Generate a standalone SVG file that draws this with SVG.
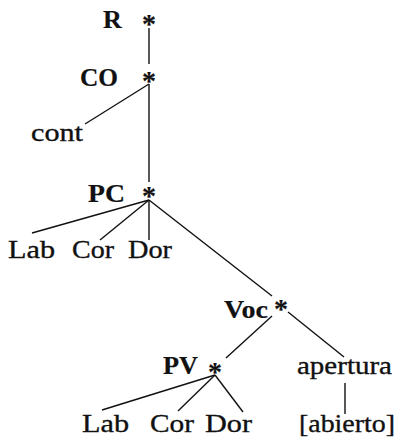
<svg xmlns="http://www.w3.org/2000/svg" width="398" height="440" viewBox="0 0 398 440">
<style>
text{font-family:"Liberation Serif","Times New Roman",serif;font-size:26px;fill:#111;stroke:#111;stroke-width:0.35}
.b{font-weight:bold;stroke-width:0.2}
.ast{font-weight:bold;font-size:28px;text-anchor:middle;stroke-width:0.2}
#edges line{stroke:#111;stroke-width:1.4}
</style>
<rect width="398" height="440" fill="#fff"/>
<g id="edges">
<line x1="149" y1="28" x2="149" y2="64"/>
<line x1="149" y1="84" x2="85" y2="124"/>
<line x1="149" y1="84" x2="149" y2="182"/>
<line x1="149" y1="200" x2="32" y2="233"/>
<line x1="149" y1="200" x2="100" y2="240"/>
<line x1="149" y1="200" x2="149" y2="240"/>
<line x1="149" y1="200" x2="272" y2="296"/>
<line x1="272" y1="316" x2="226" y2="358"/>
<line x1="288" y1="312" x2="344" y2="357"/>
<line x1="215" y1="375" x2="102" y2="410"/>
<line x1="215" y1="375" x2="178" y2="411"/>
<line x1="215" y1="375" x2="243" y2="412"/>
<line x1="345" y1="383" x2="345" y2="414"/>
</g>
<g id="R"><text class="b" x="103" y="28">R</text><text class="ast" x="149" y="33">*</text></g>
<g id="CO"><text class="b" x="80" y="86" textLength="38" lengthAdjust="spacingAndGlyphs">CO</text><text class="ast" x="149" y="90">*</text></g>
<g id="cont"><text x="31" y="141" textLength="52" lengthAdjust="spacingAndGlyphs">cont</text></g>
<g id="PC"><text class="b" x="88" y="202" textLength="37" lengthAdjust="spacingAndGlyphs">PC</text><text class="ast" x="149" y="205">*</text></g>
<g id="Lab1"><text x="8" y="258" textLength="47" lengthAdjust="spacingAndGlyphs">Lab</text></g>
<g id="Cor1"><text x="72" y="258" textLength="42" lengthAdjust="spacingAndGlyphs">Cor</text></g>
<g id="Dor1"><text x="128" y="258" textLength="44" lengthAdjust="spacingAndGlyphs">Dor</text></g>
<g id="Voc"><text class="b" x="224" y="318" textLength="44" lengthAdjust="spacingAndGlyphs">Voc</text><text class="ast" x="281" y="318">*</text></g>
<g id="PV"><text class="b" x="163" y="374" textLength="35" lengthAdjust="spacingAndGlyphs">PV</text><text class="ast" x="215" y="381">*</text></g>
<g id="apertura"><text x="297" y="374" textLength="95" lengthAdjust="spacingAndGlyphs">apertura</text></g>
<g id="Lab2"><text x="82" y="432" textLength="47" lengthAdjust="spacingAndGlyphs">Lab</text></g>
<g id="Cor2"><text x="150" y="432" textLength="44" lengthAdjust="spacingAndGlyphs">Cor</text></g>
<g id="Dor2"><text x="205" y="432" textLength="47" lengthAdjust="spacingAndGlyphs">Dor</text></g>
<g id="abierto"><text x="299" y="432" textLength="96" lengthAdjust="spacingAndGlyphs">[abierto]</text></g>
</svg>
